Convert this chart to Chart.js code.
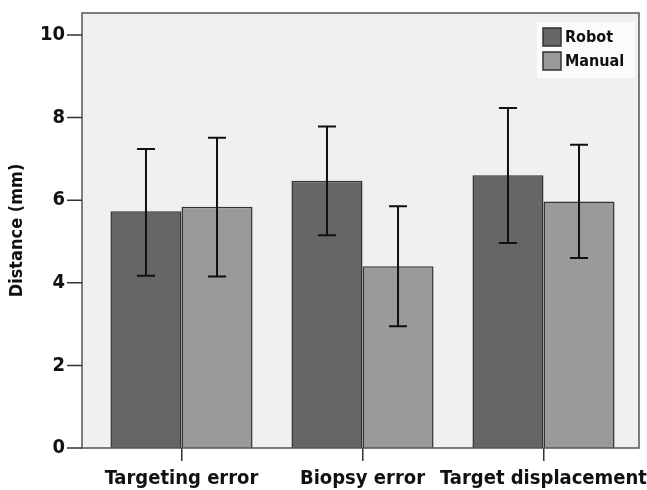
<!DOCTYPE html>
<html>
<head>
<meta charset="utf-8">
<script src="https://cdn.jsdelivr.net/npm/chart.js@4.4.1/dist/chart.umd.min.js"></script>
<style>
  html, body { margin: 0; padding: 0; background: #fff; }
  #wrap { width: 647px; height: 490px; }
</style>
</head>
<body>
<div id="wrap"><canvas id="chart" width="647" height="490"></canvas></div>
<script>
// data
const categories = ['Targeting error', 'Biopsy error', 'Target displacement'];
const seriesNames = ['Robot', 'Manual'];
const robotMean = [5.73, 6.47, 6.60];
const robotLow = [4.17, 5.15, 4.96];
const robotHigh = [7.24, 7.78, 8.23];
const manualMean = [5.84, 4.40, 5.97];
const manualLow = [4.15, 2.95, 4.60];
const manualHigh = [7.51, 5.85, 7.34];
const yTicks = [0, 2, 4, 6, 8, 10];

const FONT = "'DejaVu Sans Condensed', 'DejaVu Sans', sans-serif";
const errLow = [robotLow, manualLow];
const errHigh = [robotHigh, manualHigh];

// frame sticks out a bit past the category band
const padL = 9, padR = 5;

const framePlugin = {
  id: 'frame',
  beforeDraw(chart) {
    const { ctx, chartArea: a } = chart;
    ctx.save();
    ctx.fillStyle = '#f0f0f0';
    ctx.fillRect(a.left - padL, a.top, a.right - a.left + padL + padR, a.bottom - a.top);
    ctx.restore();
  },
  afterDatasetsDraw(chart) {
    const { ctx, chartArea: a, scales } = chart;
    ctx.save();

    // error bars
    ctx.strokeStyle = '#111';
    ctx.lineWidth = 2;
    chart.data.datasets.forEach((ds, di) => {
      const meta = chart.getDatasetMeta(di);
      meta.data.forEach((bar, i) => {
        const yl = scales.y.getPixelForValue(errLow[di][i]);
        const yh = scales.y.getPixelForValue(errHigh[di][i]);
        ctx.beginPath();
        ctx.moveTo(bar.x, yl); ctx.lineTo(bar.x, yh);
        ctx.moveTo(bar.x - 9, yl); ctx.lineTo(bar.x + 9, yl);
        ctx.moveTo(bar.x - 9, yh); ctx.lineTo(bar.x + 9, yh);
        ctx.stroke();
      });
    });

    // frame
    const L = a.left - padL;
    ctx.strokeStyle = '#555';
    ctx.lineWidth = 1.5;
    ctx.strokeRect(L, a.top, a.right + padR - L, a.bottom - a.top);

    // y tick marks
    ctx.strokeStyle = '#333';
    ctx.beginPath();
    scales.y.ticks.forEach(t => {
      const y = scales.y.getPixelForValue(t.value);
      ctx.moveTo(L - 15, y); ctx.lineTo(L, y);
    });
    ctx.stroke();

    // legend box
    const lx = a.right + padR - 102, ly = a.top + 9;
    ctx.fillStyle = '#fbfbfb';
    ctx.fillRect(lx, ly, 98, 56);
    ctx.font = 'bold 16px ' + FONT;
    ctx.textBaseline = 'middle';
    chart.data.datasets.forEach((ds, di) => {
      const sy = ly + 6 + di * 24;
      ctx.fillStyle = ds.backgroundColor;
      ctx.fillRect(lx + 6, sy, 18, 18);
      ctx.strokeStyle = '#333';
      ctx.lineWidth = 1.5;
      ctx.strokeRect(lx + 6, sy, 18, 18);
      ctx.fillStyle = '#111';
      ctx.fillText(ds.label, lx + 28, sy + 10);
    });
    ctx.restore();
  }
};

new Chart(document.getElementById('chart').getContext('2d'), {
  type: 'bar',
  data: {
    labels: categories,
    datasets: [
      { label: seriesNames[0], data: robotMean, backgroundColor: '#666666', borderColor: '#333', borderWidth: 1.5 },
      { label: seriesNames[1], data: manualMean, backgroundColor: '#9a9a9a', borderColor: '#333', borderWidth: 1.5 }
    ]
  },
  options: {
    responsive: false,
    animation: false,
    layout: { padding: { left: 0, right: 13, top: 13, bottom: 0 } },
    datasets: { bar: { categoryPercentage: 0.785, barPercentage: 1 } },
    plugins: { legend: { display: false }, tooltip: { enabled: false } },
    scales: {
      x: {
        afterFit(axis) { axis.height = 42; axis.paddingLeft = 0; axis.paddingRight = 0; },
        grid: { offset: false, drawOnChartArea: false, drawTicks: true, tickLength: 13, color: '#333', lineWidth: 1.5 },
        border: { display: false },
        ticks: { padding: 6, color: '#111', font: { family: FONT, size: 20, weight: 'bold' }, maxRotation: 0, autoSkip: false }
      },
      y: {
        min: 0,
        max: 10.53,
        afterFit(axis) { axis.width = 91; axis.paddingTop = 0; axis.paddingBottom = 0; },
        afterBuildTicks(axis) { axis.ticks = yTicks.map(v => ({ value: v })); },
        grid: { display: false, drawTicks: false },
        border: { display: false },
        ticks: { padding: 26, color: '#111', font: { family: FONT, size: 20, weight: 'bold' } },
        title: { display: true, text: 'Distance (mm)', color: '#111', padding: { top: 7, bottom: 0 }, font: { family: FONT, size: 18, weight: 'bold' } }
      }
    }
  },
  plugins: [framePlugin]
});
</script>
</body>
</html>
